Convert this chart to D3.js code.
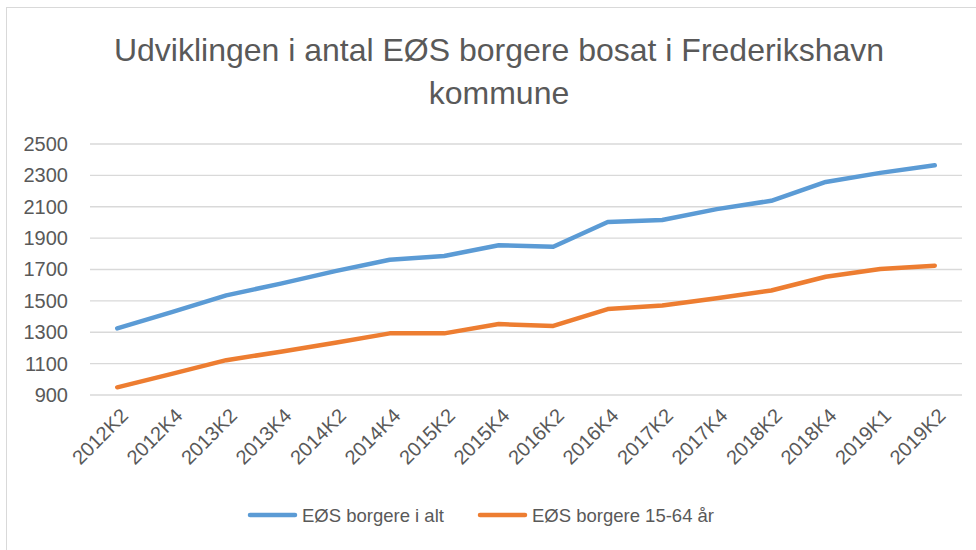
<!DOCTYPE html>
<html>
<head>
<meta charset="utf-8">
<script src="https://cdn.jsdelivr.net/npm/d3@7"></script>
<style>
  body { margin: 0; background: #fff; }
  text { font-family: "Liberation Sans", Arial, sans-serif; fill: #595959; }
</style>
</head>
<body>
<div id="chart"></div>
<script>
// kvartaler
const quarters = ["2012K2", "2012K4", "2013K2", "2013K4", "2014K2", "2014K4", "2015K2", "2015K4",
                  "2016K2", "2016K4", "2017K2", "2017K4", "2018K2", "2018K4", "2019K1", "2019K2"];
// EØS borgere i alt
const totalValues = [1325, 1428, 1535, 1610, 1690, 1762, 1786, 1855, 1845, 2003, 2016, 2085, 2138, 2258, 2316, 2364];
// EØS borgere 15-64 år
const workingAgeValues = [949, 1035, 1122, 1176, 1233, 1293, 1293, 1352, 1340, 1448, 1470, 1517, 1566, 1654, 1703, 1724];
const yTicks = [900, 1100, 1300, 1500, 1700, 1900, 2100, 2300, 2500];
const seriesNames = ["EØS borgere i alt", "EØS borgere 15-64 år"];
const seriesColors = ["#5B9BD5", "#ED7D31"];

const width = 976, height = 550;
const plot = {left: 90, right: 962, top: 144, bottom: 395};

let svg = d3.select("#chart")
    .append("svg")
    .attr("width", width)
    .attr("height", height);

svg.append("rect")
    .attr("width", width).attr("height", height)
    .attr("fill", "#fff");

// chart border (right/bottom edges fall outside the picture)
svg.append("rect")
    .attr("x", 6.5).attr("y", 7.5)
    .attr("width", 1000).attr("height", 600)
    .attr("fill", "none")
    .attr("stroke", "#d9d9d9")
    .attr("stroke-width", 1);

let x = d3.scaleBand()
    .domain(quarters)
    .range([plot.left, plot.right]);

let y = d3.scaleLinear()
    .domain([900, 2500])
    .range([plot.bottom, plot.top]);

// gridlines
svg.append("g")
    .selectAll("line")
    .data(yTicks)
    .enter()
    .append("line")
    .attr("x1", plot.left)
    .attr("x2", plot.right)
    .attr("y1", d => y(d))
    .attr("y2", d => y(d))
    .attr("stroke", "#d9d9d9")
    .attr("stroke-width", 1.3);

// y axis labels
let yAxis = svg.append("g")
    .attr("transform", `translate(${plot.left}, 0)`)
    .call(d3.axisLeft(y).tickValues(yTicks).tickFormat(d3.format("d")).tickSize(0).tickPadding(22));
yAxis.select(".domain").remove();
yAxis.selectAll("text")
    .style("font-size", "20px")
    .style("font-family", "\"Liberation Sans\", Arial, sans-serif")
    .attr("fill", "#595959");

// x axis labels, rotated
let xAxis = svg.append("g")
    .attr("transform", `translate(0, ${plot.bottom})`)
    .call(d3.axisBottom(x).tickSize(0).tickPadding(0));
xAxis.select(".domain").remove();
xAxis.selectAll("text")
    .style("font-size", "20px")
    .style("font-family", "\"Liberation Sans\", Arial, sans-serif")
    .attr("fill", "#595959")
    .attr("text-anchor", "end")
    .attr("dy", null)
    .attr("y", 0)
    .attr("transform", "translate(12, 22) rotate(-45)");

// lines
let line = d3.line()
    .x((d, i) => x(quarters[i]) + x.bandwidth() / 2)
    .y(d => y(d));

[totalValues, workingAgeValues].forEach(function(vals, i) {
    svg.append("path")
        .datum(vals)
        .attr("d", line)
        .attr("fill", "none")
        .attr("stroke", seriesColors[i])
        .attr("stroke-width", 4.5)
        .attr("stroke-linecap", "round")
        .attr("stroke-linejoin", "round");
});

// title
let title = svg.append("text")
    .attr("x", 499)
    .attr("y", 61)
    .style("text-anchor", "middle")
    .style("font-size", "32px");
title.append("tspan").attr("x", 499).text("Udviklingen i antal EØS borgere bosat i Frederikshavn");
title.append("tspan").attr("x", 499).attr("dy", 43).text("kommune");

// legend
let legendX = [250, 480];
let legend = svg.append("g");
seriesNames.forEach(function(name, i) {
    legend.append("line")
        .attr("x1", legendX[i]).attr("x2", legendX[i] + 45)
        .attr("y1", 515).attr("y2", 515)
        .attr("stroke", seriesColors[i])
        .attr("stroke-width", 4.5)
        .attr("stroke-linecap", "round");
    legend.append("text")
        .attr("x", legendX[i] + 52)
        .attr("y", 522)
        .style("font-size", "18.5px")
        .text(name);
});
</script>
</body>
</html>
